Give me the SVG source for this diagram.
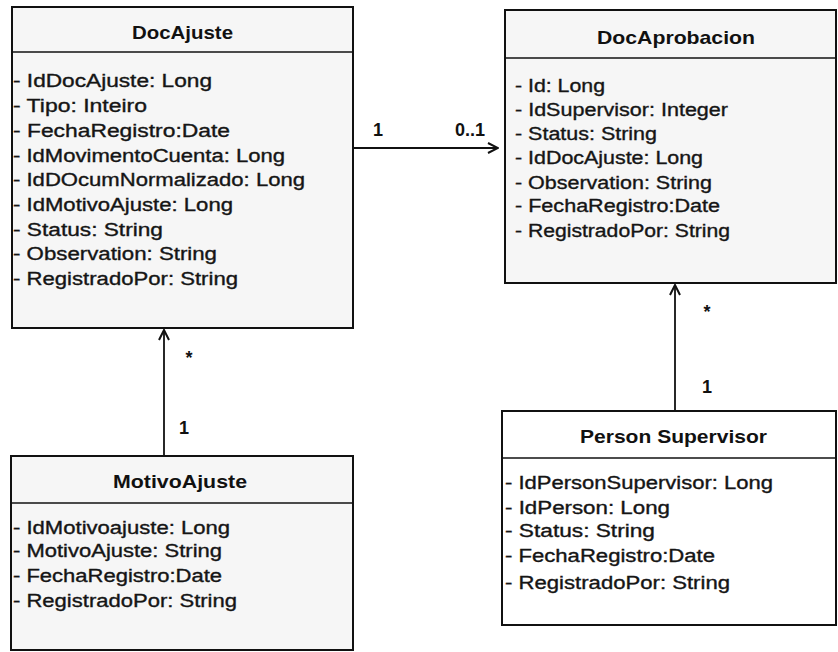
<svg xmlns="http://www.w3.org/2000/svg" width="838" height="652" viewBox="0 0 838 652">
<style>
.box{fill:#f6f6f6;stroke:#111;stroke-width:2}
.clean{fill:#fff;stroke:#111;stroke-width:2}
.div{stroke:#111;stroke-width:1.6}
.t{font-family:"Liberation Sans",Arial,sans-serif;font-size:18px;fill:#151515;stroke:#151515;stroke-width:0.35}
.h{font-family:"Liberation Sans",Arial,sans-serif;font-size:19px;font-weight:bold;fill:#111}
.m{font-family:"Liberation Sans",Arial,sans-serif;font-size:18px;font-weight:bold;fill:#111;text-anchor:middle}
.c{stroke:#111;stroke-width:1.8;fill:none}
</style>
<defs>
<marker id="open" viewBox="0 0 12 12" refX="11" refY="6" markerWidth="12" markerHeight="12" markerUnits="userSpaceOnUse" orient="auto">
<path d="M1,1 L11,6 L1,11" fill="none" stroke="#111" stroke-width="2"/>
</marker>
</defs>
<g id="connectors">
<line class="c" x1="353" y1="148" x2="498" y2="148" marker-end="url(#open)"/>
<line class="c" x1="164" y1="456" x2="164" y2="330" marker-end="url(#open)"/>
<line class="c" x1="675" y1="411" x2="675" y2="285" marker-end="url(#open)"/>
<text class="m" x="378" y="136">1</text>
<text class="m" x="470" y="136">0..1</text>
<text class="m" x="189" y="364">*</text>
<text class="m" x="184" y="434">1</text>
<text class="m" x="707" y="318">*</text>
<text class="m" x="707" y="393">1</text>
</g>
<g id="DocAjuste">
<rect class="box" x="12" y="7" width="341" height="321"/>
<line class="div" x1="12" y1="52" x2="353" y2="52"/>
<text class="h" x="132" y="39" textLength="101" lengthAdjust="spacingAndGlyphs">DocAjuste</text>
<text class="t" x="13" y="87" textLength="199" lengthAdjust="spacingAndGlyphs">- IdDocAjuste: Long</text>
<text class="t" x="13" y="112" textLength="134" lengthAdjust="spacingAndGlyphs">- Tipo: Inteiro</text>
<text class="t" x="13" y="137" textLength="217" lengthAdjust="spacingAndGlyphs">- FechaRegistro:Date</text>
<text class="t" x="13" y="162" textLength="272" lengthAdjust="spacingAndGlyphs">- IdMovimentoCuenta: Long</text>
<text class="t" x="13" y="186" textLength="292" lengthAdjust="spacingAndGlyphs">- IdDOcumNormalizado: Long</text>
<text class="t" x="13" y="211" textLength="220" lengthAdjust="spacingAndGlyphs">- IdMotivoAjuste: Long</text>
<text class="t" x="13" y="236" textLength="150" lengthAdjust="spacingAndGlyphs">- Status: String</text>
<text class="t" x="13" y="260" textLength="204" lengthAdjust="spacingAndGlyphs">- Observation: String</text>
<text class="t" x="13" y="285" textLength="225" lengthAdjust="spacingAndGlyphs">- RegistradoPor: String</text>
</g>
<g id="DocAprobacion">
<rect class="box" x="505" y="10" width="331" height="273"/>
<line class="div" x1="505" y1="58" x2="836" y2="58"/>
<text class="h" x="597" y="44" textLength="158" lengthAdjust="spacingAndGlyphs">DocAprobacion</text>
<text class="t" x="515" y="92" textLength="90" lengthAdjust="spacingAndGlyphs">- Id: Long</text>
<text class="t" x="515" y="116" textLength="213" lengthAdjust="spacingAndGlyphs">- IdSupervisor: Integer</text>
<text class="t" x="515" y="140" textLength="142" lengthAdjust="spacingAndGlyphs">- Status: String</text>
<text class="t" x="515" y="164" textLength="188" lengthAdjust="spacingAndGlyphs">- IdDocAjuste: Long</text>
<text class="t" x="515" y="189" textLength="197" lengthAdjust="spacingAndGlyphs">- Observation: String</text>
<text class="t" x="515" y="212" textLength="205" lengthAdjust="spacingAndGlyphs">- FechaRegistro:Date</text>
<text class="t" x="515" y="237" textLength="215" lengthAdjust="spacingAndGlyphs">- RegistradoPor: String</text>
</g>
<g id="MotivoAjuste">
<rect class="box" x="11" y="456" width="342" height="194"/>
<line class="div" x1="11" y1="503" x2="353" y2="503"/>
<text class="h" x="113" y="488" textLength="134" lengthAdjust="spacingAndGlyphs">MotivoAjuste</text>
<text class="t" x="13" y="534" textLength="217" lengthAdjust="spacingAndGlyphs">- IdMotivoajuste: Long</text>
<text class="t" x="13" y="557" textLength="209" lengthAdjust="spacingAndGlyphs">- MotivoAjuste: String</text>
<text class="t" x="13" y="582" textLength="209" lengthAdjust="spacingAndGlyphs">- FechaRegistro:Date</text>
<text class="t" x="13" y="607" textLength="224" lengthAdjust="spacingAndGlyphs">- RegistradoPor: String</text>
</g>
<g id="PersonSupervisor">
<rect class="clean" x="502" y="411" width="334" height="214"/>
<line class="div" x1="502" y1="458" x2="836" y2="458"/>
<text class="h" x="580" y="443" textLength="187" lengthAdjust="spacingAndGlyphs">Person Supervisor</text>
<text class="t" x="505" y="489" textLength="268" lengthAdjust="spacingAndGlyphs">- IdPersonSupervisor: Long</text>
<text class="t" x="505" y="514" textLength="165" lengthAdjust="spacingAndGlyphs">- IdPerson: Long</text>
<text class="t" x="505" y="537" textLength="150" lengthAdjust="spacingAndGlyphs">- Status: String</text>
<text class="t" x="505" y="562" textLength="210" lengthAdjust="spacingAndGlyphs">- FechaRegistro:Date</text>
<text class="t" x="505" y="589" textLength="225" lengthAdjust="spacingAndGlyphs">- RegistradoPor: String</text>
</g>
</svg>
